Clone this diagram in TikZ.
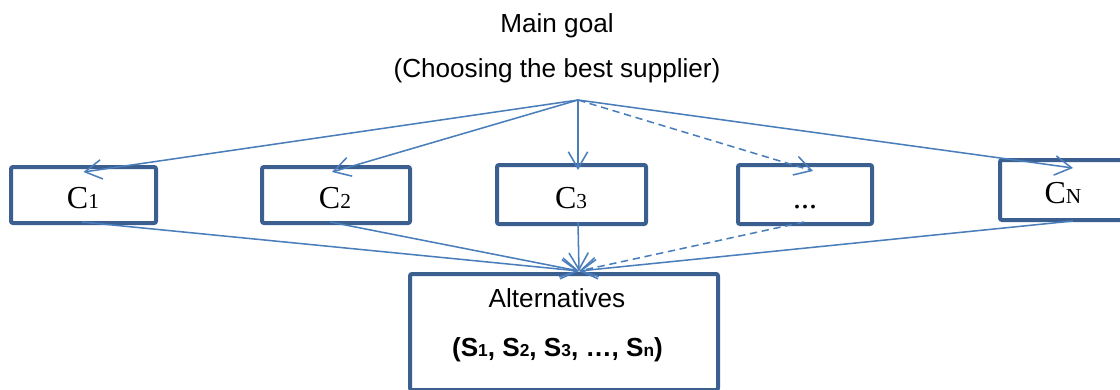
\documentclass[tikz,border=0pt]{standalone}
\usepackage{fontspec}
\setmainfont{Liberation Sans}
\newfontfamily\tnr{Liberation Serif}
\usetikzlibrary{arrows.meta,calc}
\definecolor{boxblue}{HTML}{3B5F8F}
\definecolor{linkblue}{HTML}{4A7EBB}
\newcommand{\critlabel}[2]{{\tnr\fontsize{24}{28}\selectfont #1\fontsize{16}{18}\selectfont #2}}
\newcommand{\ssub}[1]{{\fontsize{13}{15}\selectfont #1}}
\begin{document}
\begin{tikzpicture}[x=0.75pt,y=-0.75pt,
  crit/.style={draw=boxblue,line width=3pt,rounded corners=1.5pt,inner sep=0pt},
  txt/.style={anchor=base,inner sep=0pt,font=\fontsize{19.6}{23}\selectfont},
  link/.style={draw=linkblue,line width=1.15pt,-{Straight Barb[length=12.5pt,width=14.5pt,line width=1.15pt]}},
  dlink/.style={link,dash pattern=on 5.5pt off 3.5pt}]
\useasboundingbox (0,0) rectangle (1120,389);
% boxes
\node[crit,minimum width=108.75pt,minimum height=42pt] (c1) at (83.5,195) {};
\node[crit,minimum width=111pt,minimum height=42pt] (c2) at (336,195) {};
\node[crit,minimum width=111.75pt,minimum height=44.25pt] (c3) at (571.5,194.5) {};
\node[crit,minimum width=100.5pt,minimum height=44.25pt] (cd) at (805,194.5) {};
\node[crit,minimum width=93.75pt,minimum height=45pt] (cn) at (1062.5,190) {};
\node[crit,minimum width=231pt,minimum height=87pt] (alt) at (564,332) {};
% texts
\node[txt] (goal) at (557,32) {Main goal};
\node[txt] (goal2) at (557,77) {(Choosing the best supplier)};
\node[txt] (t1) at (83,208) {\critlabel{C}{1}};
\node[txt] (t2) at (335,208) {\critlabel{C}{2}};
\node[txt] (t3) at (571,208) {\critlabel{C}{3}};
\node[txt] (td) at (805,208) {\tnr\fontsize{24}{28}\selectfont ...};
\node[txt] (tn) at (1063,203) {\critlabel{C}{N}};
\node[txt] (ta) at (557,307) {Alternatives};
\node[txt,font=\bfseries\fontsize{19.6}{23}\selectfont] (ts) at (557.5,356) {(S\ssub{1}, S\ssub{2}, S\ssub{3}, …, S\ssub{n})};
% connection points
\coordinate (top) at (578,100);
\coordinate (bot) at ($(alt.north)+(15,-1)$);
% arrows from goal
\draw[link] (top) -- ($(c1.north)+(0,7)$);
\draw[link] (top) -- ($(c2.north)+(-4,7)$);
\draw[link] (top) -- ($(c3.north)+(6.5,7)$);
\draw[dlink] (top) -- ($(cd.north)+(8,8)$);
\draw[link] (top) -- ($(cn.north)+(10.5,10)$);
% arrows to alternatives
\draw[link] ($(c1.south)+(-1.5,-3)$) -- (bot);
\draw[link] ($(c2.south)+(-6,-3)$) -- (bot);
\draw[link] ($(c3.south)+(6.5,-4)$) -- (bot);
\draw[dlink] ($(cd.south)+(-1,-4)$) -- (bot);
\draw[link] ($(cn.south)+(10.5,-1)$) -- (bot);
\end{tikzpicture}
\end{document}
